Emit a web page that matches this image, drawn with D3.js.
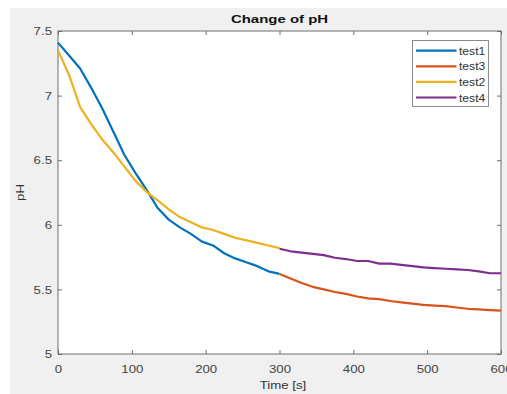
<!DOCTYPE html>
<html>
<head>
<meta charset="utf-8">
<script src="https://cdn.jsdelivr.net/npm/d3@7"></script>
<style>
  html, body { margin: 0; padding: 0; background: #ffffff; }
  svg { display: block; font-family: "Liberation Sans", Arial, sans-serif; }
</style>
</head>
<body>
<svg id="chart" width="507" height="394"></svg>
<script>
// ---- data ----
const seriesNames = ["test1", "test3", "test2", "test4"];
const seriesColors = ["#0072BD", "#D95319", "#EDB120", "#7E2F8E"];

const timeFirst = [0, 15, 30, 45, 60, 75, 90, 105, 120, 135, 150, 165, 180, 195, 210, 225, 240, 255, 270, 285, 300];
const timeSecond = [300, 315, 330, 345, 360, 375, 390, 405, 420, 435, 450, 465, 480, 495, 510, 525, 540, 555, 570, 585, 600];

const test1 = [7.41, 7.31, 7.21, 7.06, 6.90, 6.72, 6.54, 6.40, 6.27, 6.13, 6.04, 5.98, 5.93, 5.87, 5.84, 5.78, 5.74, 5.71, 5.68, 5.64, 5.62];
const test2 = [7.35, 7.16, 6.91, 6.78, 6.66, 6.56, 6.45, 6.34, 6.255, 6.19, 6.12, 6.06, 6.02, 5.98, 5.96, 5.93, 5.90, 5.88, 5.86, 5.84, 5.82];
const test3 = [5.62, 5.585, 5.55, 5.52, 5.50, 5.48, 5.465, 5.445, 5.43, 5.425, 5.41, 5.40, 5.39, 5.38, 5.375, 5.37, 5.36, 5.35, 5.345, 5.34, 5.335];
const test4 = [5.815, 5.795, 5.785, 5.775, 5.765, 5.745, 5.735, 5.72, 5.72, 5.70, 5.70, 5.69, 5.68, 5.67, 5.665, 5.66, 5.655, 5.65, 5.64, 5.625, 5.625];

const xTicks = [0, 100, 200, 300, 400, 500, 600];
const yTicks = [5, 5.5, 6, 6.5, 7, 7.5];
const yTickLabels = ["5", "5.5", "6", "6.5", "7", "7.5"];

const titleText = "Change of pH";
const xLabel = "Time [s]";
const yLabel = "pH";

// ---- layout ----
const svg = d3.select("#chart");
const W = 507, H = 394;
const L = 58, R = 501, T = 31, B = 354;

const x = d3.scaleLinear().domain([0, 600]).range([L, R]);
const y = d3.scaleLinear().domain([5, 7.5]).range([B, T]);

svg.append("rect").attr("x", 10).attr("y", 8).attr("width", W - 10).attr("height", H - 8).attr("fill", "#f0f0f0");
svg.append("rect").attr("x", L).attr("y", T).attr("width", R - L).attr("height", B - T).attr("fill", "#ffffff");

const axisColor = "#6e6e6e";
const textColor = "#444444";

function styleAxis(g, showText) {
  g.select(".domain").remove();
  g.selectAll(".tick line").attr("stroke", axisColor);
  g.selectAll(".tick text").attr("fill", textColor).attr("font-size", 11.5);
  if (!showText) g.selectAll(".tick text").remove();
}

// bottom axis
svg.append("g").attr("transform", `translate(0,${B})`)
  .call(d3.axisBottom(x).tickValues(xTicks).tickFormat(d3.format("d")).tickSizeInner(-4).tickSizeOuter(0).tickPadding(11))
  .call(g => styleAxis(g, true));
// top axis
svg.append("g").attr("transform", `translate(0,${T})`)
  .call(d3.axisTop(x).tickValues(xTicks).tickSizeInner(-4).tickSizeOuter(0))
  .call(g => styleAxis(g, false));
// left axis
svg.append("g").attr("transform", `translate(${L},0)`)
  .call(d3.axisLeft(y).tickValues(yTicks).tickFormat((d, i) => yTickLabels[i]).tickSizeInner(-4).tickSizeOuter(0).tickPadding(6))
  .call(g => styleAxis(g, true));
// right axis
svg.append("g").attr("transform", `translate(${R},0)`)
  .call(d3.axisRight(y).tickValues(yTicks).tickSizeInner(-4).tickSizeOuter(0))
  .call(g => styleAxis(g, false));

// axes box
svg.append("rect").attr("x", L).attr("y", T).attr("width", R - L).attr("height", B - T)
  .attr("fill", "none").attr("stroke", axisColor).attr("stroke-width", 1);

// lines
const series = [
  { name: "test1", t: timeFirst, v: test1 },
  { name: "test3", t: timeSecond, v: test3 },
  { name: "test2", t: timeFirst, v: test2 },
  { name: "test4", t: timeSecond, v: test4 }
];
const line = d3.line().x(d => x(d[0])).y(d => y(d[1]));
series.forEach((s, i) => {
  svg.append("path")
    .datum(s.t.map((t, j) => [t, s.v[j]]))
    .attr("fill", "none")
    .attr("stroke", seriesColors[seriesNames.indexOf(s.name)])
    .attr("stroke-width", 2.2)
    .attr("stroke-linejoin", "round")
    .attr("d", line);
});

// title and labels
svg.append("text").attr("class", "stretch").attr("x", (L + R) / 2).attr("y", 23)
  .attr("text-anchor", "middle").attr("font-weight", "bold").attr("font-size", 11.5)
  .attr("fill", "#111").text(titleText);
svg.append("text").attr("class", "stretch").attr("x", 283).attr("y", 389)
  .attr("text-anchor", "middle").attr("font-size", 11.5).attr("fill", "#333").text(xLabel);
svg.append("text").attr("class", "stretch").attr("transform", `translate(24,${(T + B) / 2}) rotate(-90)`)
  .attr("text-anchor", "middle").attr("font-size", 11.5).attr("fill", "#333").text(yLabel);

// legend
const lgX = 412.5, lgY = 40.5, lgW = 76, lgH = 66;
svg.append("rect").attr("x", lgX).attr("y", lgY).attr("width", lgW).attr("height", lgH)
  .attr("fill", "#ffffff").attr("stroke", "#8a8a8a").attr("stroke-width", 1);
seriesNames.forEach((n, i) => {
  const yy = 50.7 + i * 15.6;
  svg.append("line").attr("x1", 416).attr("x2", 456.5).attr("y1", yy).attr("y2", yy)
    .attr("stroke", seriesColors[i]).attr("stroke-width", 2.2);
  svg.append("text").attr("class", "stretch-l").attr("x", 459).attr("y", yy + 4)
    .attr("font-size", 11).attr("fill", "#333").text(n);
});

// horizontal stretch to mimic the wide source rendering
svg.selectAll(".tick text, text.stretch").each(function () {
  const len = this.getComputedTextLength();
  const k = d3.select(this).attr("font-weight") === "bold" ? 1.3 : 1.15;
  d3.select(this).attr("textLength", len * k).attr("lengthAdjust", "spacingAndGlyphs");
});
svg.selectAll("text.stretch-l").each(function () {
  const len = this.getComputedTextLength();
  d3.select(this).attr("textLength", len * 1.1).attr("lengthAdjust", "spacingAndGlyphs");
});
</script>
</body>
</html>
